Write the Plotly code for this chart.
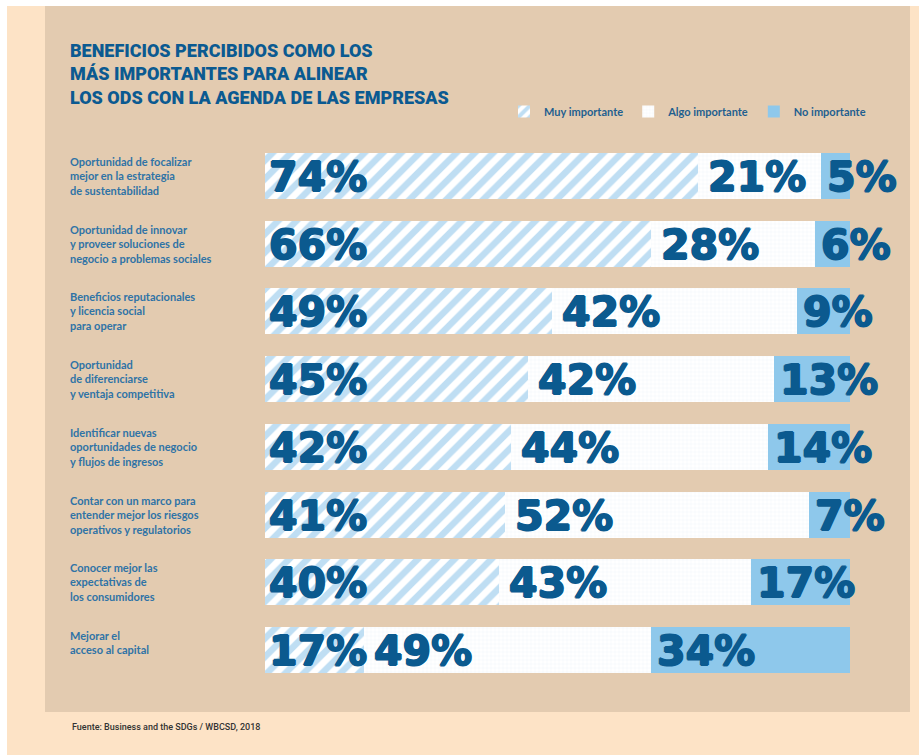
import plotly.graph_objects as go

categories = [
    "Oportunidad de focalizar<br>mejor en la estrategia<br>de sustentabilidad",
    "Oportunidad de innovar<br>y proveer soluciones de<br>negocio a problemas sociales",
    "Beneficios reputacionales<br>y licencia social<br>para operar",
    "Oportunidad<br>de diferenciarse<br>y ventaja competitiva",
    "Identificar nuevas<br>oportunidades de negocio<br>y flujos de ingresos",
    "Contar con un marco para<br>entender mejor los riesgos<br>operativos y regulatorios",
    "Conocer mejor las<br>expectativas de<br>los consumidores",
    "Mejorar el<br>acceso al capital",
]
muy = [74, 66, 49, 45, 42, 41, 40, 17]
algo = [21, 28, 42, 42, 44, 52, 43, 49]
no_imp = [5, 6, 9, 13, 14, 7, 17, 34]
series_names = ["Muy importante", "Algo importante", "No importante"]

W, H = 919, 755
L, R, T, B = 265, 69, 142, 71
PW, PH = W - L - R, H - T - B

def px(x):
    return (x - L) / PW

def py(y):
    return (H - B - y) / PH

ids = list(range(len(categories)))
DARK = "#0b5a8f"
fig = go.Figure()
fig.add_trace(go.Bar(
    y=ids, x=muy, orientation="h", name=series_names[0],
    marker=dict(color="white", line=dict(width=0),
                pattern=dict(shape="/", fgcolor="#7fbde8", bgcolor="white", size=13, solidity=0.5)),
))
fig.add_trace(go.Bar(
    y=ids, x=algo, orientation="h", name=series_names[1],
    marker=dict(color="white", line=dict(width=0),
                pattern=dict(shape="+", fgcolor="#e4edf6", bgcolor="white", size=4, solidity=0.2)),
))
fig.add_trace(go.Bar(
    y=ids, x=no_imp, orientation="h", name=series_names[2],
    marker=dict(color="#8ec8eb", line=dict(width=0)),
))

thick = ", ".join(f"{dx}px {dy}px 0 {DARK}" for dx, dy in [(0.9, 0), (-0.9, 0), (0, 0.9), (0, -0.9)])
shifts = [2, 8, 4]

annotations = []
for i in ids:
    starts = [0, muy[i], muy[i] + algo[i]]
    vals = [muy[i], algo[i], no_imp[i]]
    for s, v, sh in zip(starts, vals, shifts):
        annotations.append(dict(
            x=s, y=i, xref="x", yref="y", text=f"{v}%", showarrow=False,
            xanchor="left", yanchor="middle", xshift=sh, yshift=-1,
            font=dict(family="DejaVu Sans", size=41, color=DARK, weight=900, shadow=thick),
        ))
    annotations.append(dict(
        x=px(68), y=i, xref="paper", yref="y", text=categories[i], showarrow=False,
        xanchor="left", yanchor="top", yshift=23, align="left",
        font=dict(family="Lato", size=11, color="#2f73a6", weight=700),
    ))

annotations.append(dict(
    x=px(68), y=py(38), xref="paper", yref="paper", showarrow=False,
    text="BENEFICIOS PERCIBIDOS COMO LOS<br>MÁS IMPORTANTES PARA ALINEAR<br>LOS ODS CON LA AGENDA DE LAS EMPRESAS",
    xanchor="left", yanchor="top", align="left",
    font=dict(family="Roboto", size=18, color="#0b5a91", weight=900),
))
annotations.append(dict(
    x=px(70), y=py(727), xref="paper", yref="paper", showarrow=False,
    text="Fuente: Business and the SDGs / WBCSD, 2018",
    xanchor="left", yanchor="middle", align="left",
    font=dict(family="Roboto", size=9, color="#333333", weight=500),
))

shapes = [
    dict(type="rect", xref="paper", yref="paper", x0=px(7), x1=px(919), y0=py(755), y1=py(6),
         fillcolor="#fde3c6", line=dict(width=0), layer="below"),
    dict(type="rect", xref="paper", yref="paper", x0=px(45), x1=px(910), y0=py(712), y1=py(6),
         fillcolor="#e3cbb0", line=dict(width=0), layer="below"),
]

fig.update_layout(
    width=W, height=H, barmode="stack", bargap=0.32,
    margin=dict(l=L, r=R, t=T, b=B, pad=0),
    paper_bgcolor="white", plot_bgcolor="rgba(0,0,0,0)",
    xaxis=dict(range=[0, 100], visible=False, fixedrange=True),
    yaxis=dict(autorange="reversed", visible=False, fixedrange=True),
    showlegend=True,
    legend=dict(orientation="h", x=px(504), y=py(97), xanchor="left", yanchor="top",
                bgcolor="rgba(0,0,0,0)", traceorder="normal",
                font=dict(family="Lato", size=11, color="#1f5f8f", weight=700),
                itemwidth=30),
    annotations=annotations, shapes=shapes,
)

fig.write_html("out.html")
